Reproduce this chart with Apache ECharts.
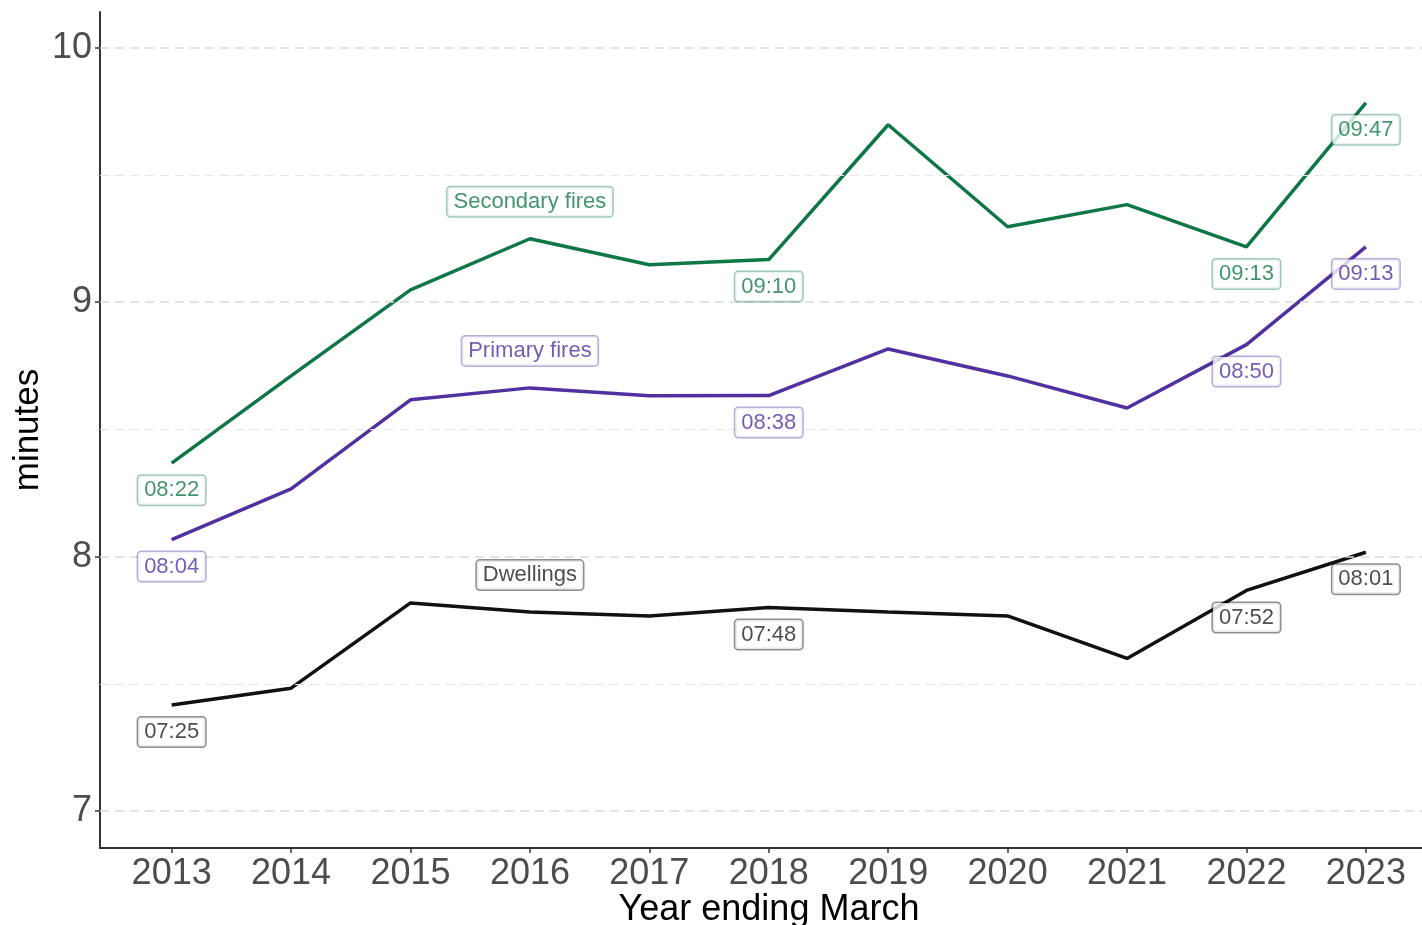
<!DOCTYPE html>
<html>
<head>
<meta charset="utf-8">
<script src="https://cdn.jsdelivr.net/npm/echarts@6/dist/echarts.min.js"></script>
<style>
html,body{margin:0;padding:0;background:#fff;}
#chart{width:1422px;height:925px;}
</style>
</head>
<body>
<div id="chart"></div>
<script>
const years = [2013, 2014, 2015, 2016, 2017, 2018, 2019, 2020, 2021, 2022, 2023];
const secondaryFires = [8.367, 8.71, 9.048, 9.249, 9.147, 9.167, 9.697, 9.296, 9.383, 9.217, 9.783];
const primaryFires = [8.067, 8.266, 8.616, 8.663, 8.632, 8.633, 8.816, 8.71, 8.584, 8.833, 9.217];
const dwellings = [7.417, 7.483, 7.818, 7.782, 7.767, 7.8, 7.782, 7.767, 7.6, 7.867, 8.017];
const labelledIndex = [0, 5, 9, 10];
const nameIndex = 3;
const yTicks = [7, 8, 9, 10];
const yMinorTicks = [7.5, 8.5, 9.5];

const seriesDefs = [
  {name: 'Secondary fires', values: secondaryFires, color: '#0f7646', text: '#137a4a', border: 'rgba(17,120,74,0.5)'},
  {name: 'Primary fires', values: primaryFires, color: '#5131a0', text: '#5533a1', border: 'rgba(85,51,161,0.5)'},
  {name: 'Dwellings', values: dwellings, color: '#111111', text: '#222222', border: 'rgba(0,0,0,0.55)'}
];

function mmss(v) {
  let m = Math.floor(v);
  let s = Math.round((v - m) * 60);
  if (s === 60) { m += 1; s = 0; }
  return String(m).padStart(2, '0') + ':' + String(s).padStart(2, '0');
}

const font = 'Liberation Sans, Arial, sans-serif';
const series = [];

// gridlines
series.push({
  type: 'line', data: [], silent: true, z: 0,
  markLine: {
    silent: true, symbol: 'none', label: {show: false},
    data: yTicks.map(v => ({yAxis: v, lineStyle: {color: '#dadada', width: 1.5, type: [9, 6]}}))
      .concat(yMinorTicks.map(v => ({yAxis: v, lineStyle: {color: '#e6e6e6', width: 1, type: [9, 6]}})))
  }
});

seriesDefs.forEach(d => {
  series.push({
    type: 'line', name: d.name, z: 2,
    data: years.map((y, i) => [y, d.values[i]]),
    showSymbol: false, symbol: 'none',
    lineStyle: {color: d.color, width: 3.5},
    itemStyle: {color: d.color},
    animation: false
  });
  const boxStyle = {
    show: true, position: 'inside', color: d.text, fontFamily: font, fontSize: 22,
    backgroundColor: '#fff', borderColor: d.border, borderWidth: 1.5, borderRadius: 3,
    padding: [4, 6, 3, 6]
  };
  series.push({
    type: 'scatter', z: 5, symbol: 'circle', symbolSize: 1,
    itemStyle: {color: 'rgba(0,0,0,0)'}, silent: true, animation: false,
    data: labelledIndex.map(i => ({value: [years[i], d.values[i]]})),
    label: Object.assign({}, boxStyle, {offset: [0, 27], formatter: p => mmss(p.value[1])})
  });
  series.push({
    type: 'scatter', z: 5, symbol: 'circle', symbolSize: 1,
    itemStyle: {color: 'rgba(0,0,0,0)'}, silent: true, animation: false,
    data: [{value: [years[nameIndex], d.values[nameIndex]]}],
    label: Object.assign({}, boxStyle, {offset: [0, -37], formatter: d.name})
  });
});

const chart = echarts.init(document.getElementById('chart'));
chart.setOption({
  animation: false,
  backgroundColor: '#fff',
  grid: {left: 100, right: 0, top: 12, bottom: 77, containLabel: false, outerBoundsMode: 'none'},
  xAxis: {
    type: 'value', min: 2012.4, max: 2023.47,
    name: 'Year ending March', nameLocation: 'middle', nameGap: 44, nameMoveOverlap: false,
    nameTextStyle: {fontFamily: font, fontSize: 36, color: '#000', padding: [0, 0, 0, 16]},
    axisLine: {show: true, onZero: false, lineStyle: {color: '#333', width: 2}},
    axisTick: {show: true, length: 5, lineStyle: {color: '#333', width: 1.5}, customValues: years},
    axisLabel: {customValues: years, fontFamily: font, fontSize: 36, color: '#4d4d4d', margin: 8, formatter: v => String(v)},
    splitLine: {show: false}
  },
  yAxis: {
    type: 'value', min: 6.855, max: 10.14,
    name: 'minutes', nameLocation: 'middle', nameGap: 54, nameMoveOverlap: false,
    nameTextStyle: {fontFamily: font, fontSize: 35, color: '#000'},
    axisLine: {show: true, onZero: false, lineStyle: {color: '#333', width: 2}},
    axisTick: {show: true, length: 5, lineStyle: {color: '#333', width: 1.5}, customValues: yTicks},
    axisLabel: {customValues: yTicks, fontFamily: font, fontSize: 36, color: '#4d4d4d', margin: 8, formatter: v => String(v)},
    splitLine: {show: false}
  },
  series: series
});
</script>
</body>
</html>
